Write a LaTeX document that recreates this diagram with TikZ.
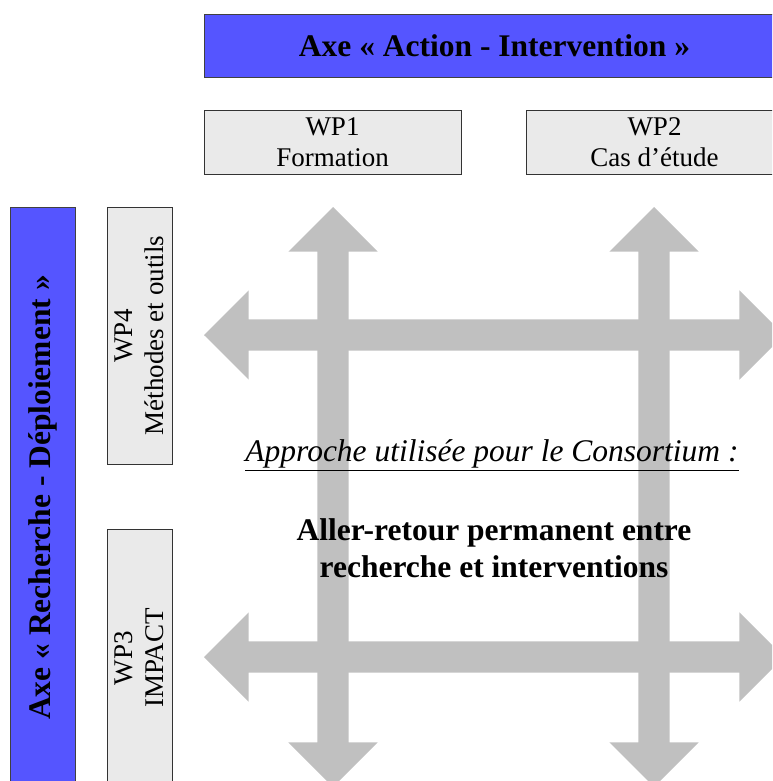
\documentclass[tikz,border=0pt]{standalone}
\usepackage{fontspec}
\setmainfont{Liberation Serif}
\usepackage{tikz}
\usetikzlibrary{shapes.arrows,positioning}
\definecolor{axeblue}{HTML}{5555FF}
\definecolor{wpgray}{HTML}{EAEAEA}
\definecolor{flowgray}{HTML}{C0C0C0}

\begin{document}
\begin{tikzpicture}[x=1pt,y=-1pt,
axe/.style={draw=black!75,fill=axeblue,inner sep=0pt,font=\bfseries\fontsize{31.5}{36}\selectfont},
wp/.style={draw=black!80,fill=wpgray,align=center,inner sep=0pt,font=\fontsize{27}{31}\selectfont},
flow/.style={double arrow,fill=flowgray,inner xsep=0pt,inner ysep=15.5pt,
  double arrow head extend=29pt,minimum height=580pt}]
\useasboundingbox (0,0) rectangle (772,781);
\clip (0,0) rectangle (772,781);
% grey two-way arrows behind everything
\foreach \y/\n in {335/top,657/bottom}
  \node[flow] (h\n) at (494,\y) {};
\foreach \x/\n in {333/left,654/right}
  \node[flow,rotate=90] (v\n) at (\x,497) {};
% the two axes
\node[axe,minimum width=581pt,minimum height=63pt] (action) at (494.5,45.5) {Axe « Action - Intervention »};
\node[axe,rotate=90,minimum width=581pt,minimum height=65pt] (recherche) at (42.5,497.5) {Axe « Recherche - Déploiement »};
% work packages
\node[wp,minimum width=257pt,minimum height=64pt] (wp1) at (332.5,142) {WP1\\Formation};
\node[wp,minimum width=257pt,minimum height=64pt] (wp2) at (654.5,142) {WP2\\Cas d’étude};
\node[wp,rotate=90,minimum width=257pt,minimum height=65pt] (wp4) at (139.5,335.5) {WP4\\Méthodes et outils};
\node[wp,rotate=90,minimum width=258pt,minimum height=65pt] (wp3) at (139.5,658) {WP3\\IMPACT};
% text in the middle
\node[font=\itshape\fontsize{31.5}{36}\selectfont] (approche) at (492,455) {\underline{Approche utilisée pour le Consortium :}};
\node[align=center,font=\bfseries\fontsize{31.5}{37}\selectfont] (allerretour) at (494,548) {Aller-retour permanent entre\\recherche et interventions};
\end{tikzpicture}
\end{document}
